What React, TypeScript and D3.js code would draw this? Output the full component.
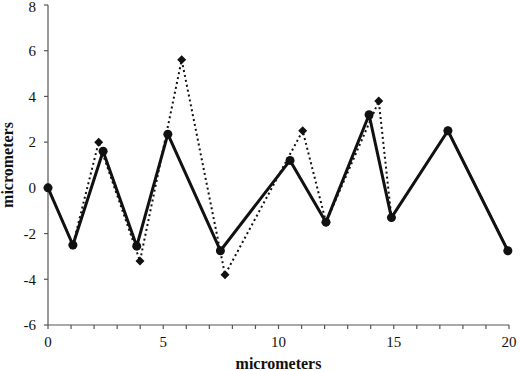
import React from "react";
import * as d3 from "d3";

const solidX = [0, 1.08, 2.39, 3.85, 5.2, 7.48, 10.5, 12.06, 13.93, 14.9, 17.35, 19.95];
const solidY = [0, -2.5, 1.6, -2.55, 2.35, -2.75, 1.2, -1.5, 3.2, -1.3, 2.5, -2.75];
const dottedX = [0, 1.08, 2.2, 3.99, 5.8, 7.68, 11.05, 12.06, 14.35, 14.9, 17.35, 19.95];
const dottedY = [0, -2.5, 2.0, -3.2, 5.6, -3.8, 2.5, -1.5, 3.8, -1.3, 2.5, -2.75];
const xTickLabels = [0, 5, 10, 15, 20];
const xMinorTicks = d3.range(0, 21, 1);
const yTickLabels = [-6, -4, -2, 0, 2, 4, 6, 8];
const axisTitle = "micrometers";

export default function App() {
  const W = 520, H = 371;
  const x = d3.scaleLinear().domain([0, 20]).range([48, 509]);
  const y = d3.scaleLinear().domain([-6, 8]).range([325, 5]);
  const solid = solidX.map((v, i) => [v, solidY[i]] as [number, number]);
  const dotted = dottedX.map((v, i) => [v, dottedY[i]] as [number, number]);
  const line = d3.line<[number, number]>().x(d => x(d[0])).y(d => y(d[1]));
  const font = "'Liberation Serif', 'Times New Roman', serif";
  const axisColor = "#555";
  const diamond = (cx: number, cy: number, r: number) =>
    `M${cx},${cy - r}L${cx + r},${cy}L${cx},${cy + r}L${cx - r},${cy}Z`;
  return (
    <svg width={W} height={H} style={{ position: "absolute", left: 0, top: 0, background: "#fff" }} fontFamily={font}>
      {/* axes */}
      <line x1={x(0)} x2={x(0)} y1={y(8)} y2={y(-6)} stroke={axisColor} strokeWidth={1.2} />
      <line x1={x(0)} x2={x(20)} y1={y(-6)} y2={y(-6)} stroke={axisColor} strokeWidth={1.2} />
      {yTickLabels.map(t => (
        <g key={"y" + t}>
          <line x1={x(0) - 4} x2={x(0)} y1={y(t)} y2={y(t)} stroke={axisColor} strokeWidth={1.2} />
          <text x={36} y={y(t) + (t === 8 ? 2 : 0)} dy="0.35em" textAnchor="end" fontSize={15} fill="#111">{t}</text>
        </g>
      ))}
      {xMinorTicks.map(t => (
        <line key={"xm" + t} x1={x(t)} x2={x(t)} y1={y(-6)} y2={y(-6) + 4} stroke={axisColor} strokeWidth={1.2} />
      ))}
      {xTickLabels.map(t => (
        <text key={"x" + t} x={x(t)} y={347} textAnchor="middle" fontSize={15} fill="#111">{t}</text>
      ))}
      <text x={(x(0) + x(20)) / 2} y={369} textAnchor="middle" fontSize={16} fontWeight="bold" fill="#111">{axisTitle}</text>
      <text transform={`translate(13,${(y(8) + y(-6)) / 2}) rotate(-90)`} textAnchor="middle" fontSize={16} fontWeight="bold" fill="#111">{axisTitle}</text>
      {/* dotted series */}
      <path d={line(dotted) || ""} fill="none" stroke="#111" strokeWidth={2} strokeDasharray="2,3" />
      {dotted.map((d, i) => (
        <path key={"d" + i} d={diamond(x(d[0]), y(d[1]), 4.5)} fill="#111" />
      ))}
      {/* solid series */}
      <path d={line(solid) || ""} fill="none" stroke="#111" strokeWidth={3} strokeLinejoin="round" />
      {solid.map((d, i) => (
        <circle key={"c" + i} cx={x(d[0])} cy={y(d[1])} r={4.5} fill="#111" />
      ))}
    </svg>
  );
}
